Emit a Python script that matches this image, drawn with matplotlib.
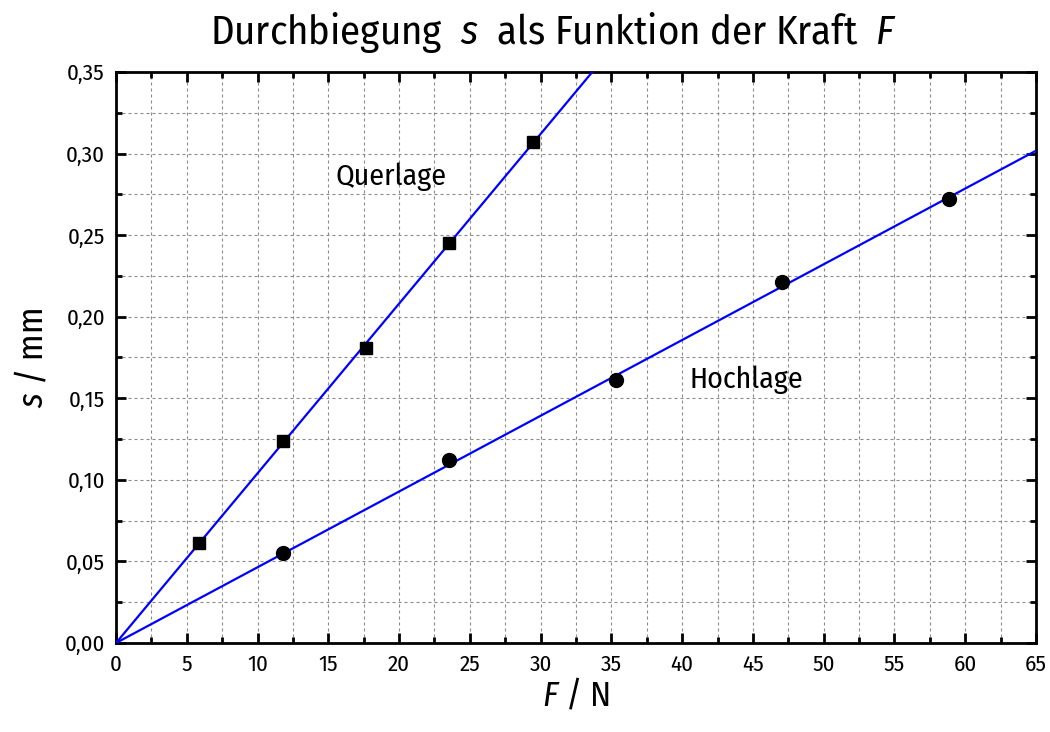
import numpy as np
import matplotlib
matplotlib.use('Agg')
import matplotlib.pyplot as plt
from matplotlib.ticker import MultipleLocator, FuncFormatter

FONT = 'Fira Sans Condensed'
plt.rcParams['font.family'] = [FONT, 'DejaVu Sans']
plt.rcParams['mathtext.fontset'] = 'custom'
plt.rcParams['mathtext.rm'] = FONT
plt.rcParams['mathtext.it'] = FONT + ':italic'

# Querlage (squares)
F_quer = [5.886, 11.772, 17.658, 23.544, 29.43]
s_quer = [0.061, 0.124, 0.181, 0.245, 0.307]
# Hochlage (circles)
F_hoch = [11.772, 23.544, 35.316, 47.088, 58.86]
s_hoch = [0.055, 0.112, 0.161, 0.221, 0.272]

def fit_origin(x, y):
    x = np.asarray(x); y = np.asarray(y)
    return np.sum(x * y) / np.sum(x * x)

k_quer = fit_origin(F_quer, s_quer)
k_hoch = fit_origin(F_hoch, s_hoch)

fig = plt.figure(figsize=(10.5, 7.32), dpi=100)
ax = fig.add_axes([116/1050, 1 - 643/732, 920/1050, 571/732])

xx = np.array([0, 65])
ax.plot(xx, k_quer * xx, color='#0000ff', lw=1.6, zorder=3)
ax.plot(xx, k_hoch * xx, color='#0000ff', lw=1.6, zorder=3)
ax.plot(F_quer, s_quer, 's', color='black', ms=9, zorder=4)
ax.plot(F_hoch, s_hoch, 'o', color='black', ms=10, zorder=4)

ax.set_xlim(0, 65)
ax.set_ylim(0, 0.35)
ax.xaxis.set_major_locator(MultipleLocator(5))
ax.xaxis.set_minor_locator(MultipleLocator(2.5))
ax.yaxis.set_major_locator(MultipleLocator(0.05))
ax.yaxis.set_minor_locator(MultipleLocator(0.025))
ax.yaxis.set_major_formatter(FuncFormatter(lambda v, p: f'{v:.2f}'.replace('.', ',')))

ax.grid(True, which='both', color='#8a8a8a', ls=(0, (2.7, 2.7)), lw=0.8)
ax.set_axisbelow(True)
for sp in ax.spines.values():
    sp.set_linewidth(2)
ax.tick_params(which='both', direction='in', top=True, right=True, labelsize=16.5, width=2)
ax.tick_params(which='major', length=7, pad=8)
ax.tick_params(which='minor', length=4)

ax.set_xlabel('$F$ / N', fontsize=25, labelpad=1)
ax.set_ylabel('$s$ / mm', fontsize=25, labelpad=10)
fig.text(0.527, 0.955, 'Durchbiegung  $s$  als Funktion der Kraft  $F$',
         ha='center', va='center', fontsize=29.3)

ax.text(15.5, 0.281, 'Querlage', fontsize=21.5)
ax.text(40.5, 0.156, 'Hochlage', fontsize=21.5)

fig.savefig('out.png', dpi=100)
